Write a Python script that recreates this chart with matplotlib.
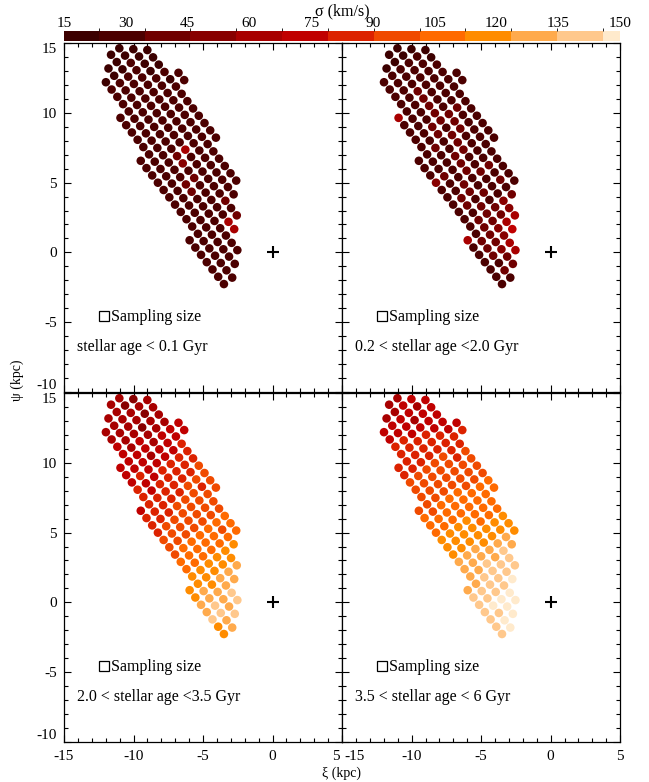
import numpy as np
import matplotlib.pyplot as plt
from matplotlib.colors import ListedColormap, BoundaryNorm
from matplotlib.ticker import MultipleLocator
from matplotlib.transforms import ScaledTranslation
import matplotlib.colorbar as mcolorbar

plt.rcParams['font.family'] = ['Liberation Serif', 'DejaVu Serif']
plt.rcParams['axes.unicode_minus'] = False

# colour table of the velocity dispersion bar (km/s)
sigma_bounds = [15, 23.5, 34.6, 45.5, 56.8, 68.0, 79.2, 90.2, 101.3, 112.4, 123.5, 134.6, 145.8, 150]
sigma_colors = ['#3c0000', '#4c0000', '#700000', '#880000', '#a80000', '#c00000', '#dc2200',
                '#f04a00', '#ff6a00', '#ff8c00', '#ffaa4c', '#ffc88c', '#ffeacc']
sigma_ticks = [15, 30, 45, 60, 75, 90, 105, 120, 135, 150]

# sampling grid: first cell, step along a row and step to the next row (kpc)
grid_origin = (-11.02, 14.62)
step_along = (1.007, -0.062)
step_across = (0.411, -0.523)
row_first = [0, -1, -1, -2, -2, -3, -3, -3, -3, -3, -4, -4, -4, -4, -4, -4, -5,
             -5, -5, -5, -5, -5, -5, -5, -5, -5, -5, -6, -6, -6, -6, -6, -6, -6]
row_last = [2, 2, 2, 3, 3, 2, 2, 2, 2, 2, 2, 2, 2, 1, 1, 1, 1,
            1, 1, 0, 0, -1, -1, -1, -2, -2, -3, -3, -3, -4, -4, -5, -5, -6]

panel_labels = ['stellar age < 0.1 Gyr', '0.2 < stellar age <2.0 Gyr',
                '2.0 < stellar age <3.5 Gyr', '3.5 < stellar age < 6 Gyr']

# sigma per grid cell, row by row
sigma_a = [
    [22, 22, 22], [22, 22, 22, 22], [22, 28, 22, 22],
    [22, 22, 28, 22, 28, 28], [22, 28, 28, 28, 22, 28], [22, 28, 28, 28, 28, 28],
    [28, 28, 28, 28, 28, 28], [28, 28, 28, 28, 28, 28], [28, 28, 28, 28, 28, 28],
    [28, 28, 28, 28, 28, 28], [28, 28, 28, 28, 28, 28, 28], [28, 28, 28, 28, 28, 28, 28],
    [28, 28, 28, 28, 28, 28, 28], [28, 28, 28, 28, 28, 28], [28, 28, 28, 58, 28, 28],
    [28, 28, 38, 28, 28, 28], [28, 28, 28, 48, 28, 28, 28], [28, 28, 28, 28, 28, 28, 28],
    [28, 28, 28, 38, 28, 28, 28], [28, 28, 40, 28, 28, 28], [28, 28, 38, 28, 28, 28],
    [28, 28, 28, 28, 38], [28, 28, 28, 28, 28], [28, 28, 28, 28, 38],
    [28, 28, 28, 62], [28, 28, 28, 60], [28, 28, 28], [28, 28, 28, 28], [28, 28, 28, 28],
    [28, 28, 28], [28, 28, 28], [28, 28], [28, 28], [28]]

sigma_b = [
    [22, 22, 22], [22, 22, 28, 22], [22, 28, 28, 28],
    [22, 28, 28, 28, 28, 28], [28, 28, 28, 28, 28, 28], [28, 28, 28, 28, 28, 28],
    [28, 28, 38, 28, 28, 28], [28, 28, 38, 28, 28, 28], [28, 28, 38, 28, 38, 28],
    [28, 28, 38, 38, 28, 28], [58, 28, 28, 38, 38, 28, 28], [28, 28, 38, 28, 38, 28, 28],
    [28, 28, 38, 38, 28, 28, 28], [28, 28, 28, 38, 28, 28], [28, 38, 28, 38, 28, 28],
    [28, 28, 38, 28, 28, 28], [28, 28, 28, 38, 28, 38, 28], [28, 28, 28, 38, 38, 28, 28],
    [28, 38, 28, 28, 28, 38, 28], [50, 28, 38, 28, 28, 28], [28, 28, 38, 38, 28, 40],
    [28, 38, 28, 28, 50], [28, 38, 38, 40, 50], [28, 28, 38, 40, 58],
    [28, 38, 40, 62], [28, 38, 50, 72], [28, 38, 48], [58, 38, 40, 62], [28, 38, 48, 66],
    [28, 38, 40], [28, 28, 38], [28, 38], [28, 28], [28]]

sigma_c = [
    [62, 51, 62], [62, 51, 62, 62], [62, 62, 51, 62],
    [62, 62, 62, 62, 62, 73], [62, 62, 51, 62, 73, 73], [62, 62, 62, 62, 73, 73],
    [62, 62, 73, 62, 73, 85], [73, 62, 73, 73, 73, 85], [73, 73, 62, 73, 85, 85],
    [73, 73, 73, 85, 85, 96], [73, 73, 73, 85, 85, 85, 96], [73, 85, 73, 85, 85, 96, 96],
    [73, 73, 85, 85, 96, 85, 96], [85, 73, 85, 85, 96, 96], [85, 85, 85, 96, 96, 96],
    [85, 85, 96, 96, 96, 96], [73, 85, 85, 96, 96, 96, 107], [85, 85, 96, 96, 96, 107, 107],
    [85, 96, 96, 96, 107, 96, 107], [85, 96, 96, 107, 107, 107], [96, 96, 107, 107, 107, 118],
    [96, 107, 107, 107, 118], [96, 107, 107, 118, 118], [107, 107, 118, 118, 129],
    [107, 118, 118, 129], [118, 118, 129, 129], [118, 118, 129], [118, 129, 129, 140],
    [118, 129, 129, 140], [129, 140, 129], [129, 140, 140], [140, 129], [118, 129], [118]]

sigma_d = [
    [62, 73, 73], [62, 73, 62, 73], [62, 73, 73, 73],
    [62, 73, 62, 73, 73, 73], [73, 73, 73, 73, 73, 85], [73, 73, 73, 85, 85, 85],
    [73, 85, 85, 85, 85, 85], [85, 85, 85, 85, 85, 96], [85, 85, 85, 96, 85, 96],
    [85, 85, 96, 96, 96, 96], [85, 85, 96, 96, 96, 96, 96], [85, 96, 96, 96, 96, 96, 107],
    [96, 96, 96, 96, 96, 107, 107], [96, 96, 96, 107, 107, 107], [96, 96, 107, 107, 107, 107],
    [96, 107, 107, 107, 107, 107], [96, 96, 107, 107, 107, 107, 118],
    [107, 107, 107, 118, 107, 118, 118], [107, 107, 118, 118, 118, 118, 118],
    [107, 118, 118, 118, 118, 129], [118, 118, 118, 118, 129, 129],
    [118, 118, 129, 129, 140], [118, 129, 129, 129, 140], [129, 129, 140, 140, 140],
    [129, 129, 140, 140], [129, 140, 140, 148], [129, 140, 140], [129, 140, 140, 148],
    [140, 140, 148, 148], [140, 148, 148], [140, 140, 148], [140, 148], [140, 148], [140]]

# positions of the grid cells
xi, psi = [], []
for j, (i0, i1) in enumerate(zip(row_first, row_last)):
    for i in range(i0, i1 + 1):
        xi.append(grid_origin[0] + i * step_along[0] + j * step_across[0])
        psi.append(grid_origin[1] + i * step_along[1] + j * step_across[1])
xi = np.array(xi)
psi = np.array(psi)

cmap = ListedColormap(sigma_colors)
norm = BoundaryNorm(sigma_bounds, cmap.N)

fig = plt.figure(figsize=(6.49, 7.82), dpi=100)

left, width = 0.0986, 0.4285
bottoms = [0.4987, 0.0512]
height = 0.4463
axes = []
for r in range(2):
    for c in range(2):
        axes.append(fig.add_axes([left + c * width, bottoms[r], width, height]))

xticks = [-15, -10, -5, 0, 5]
yticks = [-10, -5, 0, 5, 10, 15]

for k, (ax, sig) in enumerate(zip(axes, [sigma_a, sigma_b, sigma_c, sigma_d])):
    vals = np.concatenate([np.array(s, dtype=float) for s in sig])
    ax.scatter(xi, psi, c=vals, cmap=cmap, norm=norm, s=38, edgecolors='none', zorder=2)
    ax.plot(0, 0, marker='+', color='black', ms=8, mew=1.5, zorder=3)
    ax.plot(-12.15, -4.55, marker='s', mfc='none', mec='black', ms=7.5, mew=0.9)
    ax.text(-11.6, -4.6, 'Sampling size', fontsize=11.5, va='center', ha='left')
    ax.text(-14.1, -6.75, panel_labels[k], fontsize=11.5, va='center', ha='left')
    ax.set_xlim(-15, 5)
    ax.set_ylim(-10, 15)
    ax.set_xticks(xticks)
    ax.set_yticks(yticks)
    ax.xaxis.set_minor_locator(MultipleLocator(1))
    ax.yaxis.set_minor_locator(MultipleLocator(1))
    ax.tick_params(which='both', direction='in', top=True, right=True, labelsize=11)
    ax.tick_params(axis='y', pad=5)
    ax.tick_params(axis='x', pad=6)
    ax.tick_params(which='major', length=5, width=0.8)
    ax.tick_params(which='minor', length=3, width=0.8)
    for sp in ax.spines.values():
        sp.set_linewidth(0.9)
    if k % 2 == 1:
        ax.tick_params(labelleft=False)
    else:
        ylabs = ax.set_yticklabels([str(t) for t in yticks])
        ylabs[0].set_va('bottom')
        ylabs[-1].set_va('top')
    if k < 2:
        ax.tick_params(labelbottom=False)
    else:
        xlabs = ax.set_xticklabels([str(t) for t in xticks])
        # keep the shared "5" / "-15" pair at the panel junction apart
        if k == 2:
            xlabs[-1].set_ha('right')
            xlabs[-1].set_transform(xlabs[-1].get_transform()
                                    + ScaledTranslation(-1.5 / 72, 0, fig.dpi_scale_trans))
        else:
            xlabs[0].set_ha('left')
            xlabs[0].set_transform(xlabs[0].get_transform()
                                   + ScaledTranslation(1.5 / 72, 0, fig.dpi_scale_trans))

fig.text(0.027, 0.514, 'ψ (kpc)', rotation=90, fontsize=10, ha='center', va='center')
fig.text(0.526, 0.011, 'ξ (kpc)', fontsize=10, ha='center', va='center')

cax = fig.add_axes([0.0986, 0.9476, 0.857, 0.0128])
cb = mcolorbar.ColorbarBase(cax, cmap=cmap, norm=norm, orientation='horizontal',
                            spacing='proportional', ticks=sigma_ticks)
cb.outline.set_visible(False)
cax.xaxis.set_ticks_position('top')
cax.xaxis.set_label_position('top')
cax.tick_params(length=0, labelsize=11, pad=1)
cax.set_xticklabels([str(t) for t in sigma_ticks])
cb.set_label('σ (km/s)', fontsize=11.5, labelpad=1)

fig.savefig('out.png', dpi=100)
